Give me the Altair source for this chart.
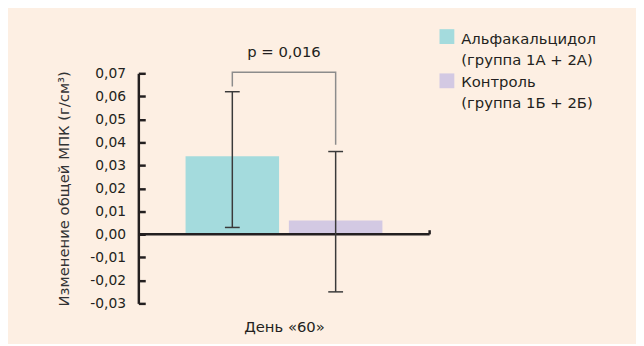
import altair as alt
import pandas as pd

# ---- data ----
groups = ["Альфакальцидол (группа 1А + 2А)", "Контроль (группа 1Б + 2Б)"]
legend_line1 = ["Альфакальцидол", "Контроль"]
legend_line2 = ["(группа 1А + 2А)", "(группа 1Б + 2Б)"]
means = [0.034, 0.006]
err_low = [0.003, -0.025]
err_high = [0.062, 0.036]
colors = ["#A4DBDD", "#D3C9E3"]
y_ticks = [-0.03, -0.02, -0.01, 0.0, 0.01, 0.02, 0.03, 0.04, 0.05, 0.06, 0.07]
y_domain = [-0.03, 0.07]
bracket_group = [groups[0], groups[0], groups[1], groups[1]]
bracket_y = [0.0643, 0.0705, 0.0705, 0.039]
p_label = "p = 0,016"
p_y = 0.0793
x_title = "День «60»"
y_title = "Изменение общей МПК (г/см³)"

W, H = 295, 233
FONT = "DejaVu Sans"
DARK = "#231F20"

bars_df = pd.DataFrame({"g": groups, "m": means, "lo": err_low, "hi": err_high})
bracket_df = pd.DataFrame({"g": bracket_group, "y": bracket_y, "o": list(range(len(bracket_y)))})
zero_df = pd.DataFrame({"v": [0.0]})
end_df = pd.DataFrame({"v": [0.0], "v2": [0.0018]})
p_df = pd.DataFrame({"t": [p_label], "y": [p_y]})

xscale = alt.Scale(domain=groups, paddingInner=0.095, paddingOuter=0.457)
yscale = alt.Scale(domain=y_domain, nice=False, zero=False)

x_enc = alt.X("g:N", scale=xscale,
              axis=alt.Axis(labels=False, ticks=False, domain=False, title=x_title,
                            titleFont=FONT, titleFontSize=15, titleFontWeight="normal",
                            titleColor=DARK, titlePadding=16))

y_left = alt.Axis(values=y_ticks, ticks=False, domain=True, domainColor=DARK, domainWidth=2.5,
                  labelExpr="replace(replace(format(datum.value, '.2f'), '.', ','), '\u2212', '-')",
                  labelFont=FONT, labelFontSize=14, labelColor=DARK, labelPadding=13,
                  grid=False, title=y_title, titleFont=FONT, titleFontSize=15,
                  titleFontWeight="normal", titleColor="#333333", titlePadding=18)


def yq(field):
    return alt.Y(field, scale=yscale, axis=None)


bars = alt.Chart(bars_df).mark_bar().encode(
    x=x_enc,
    y=alt.Y("m:Q", scale=yscale, axis=y_left),
    color=alt.Color("g:N", scale=alt.Scale(domain=groups, range=colors), legend=None),
)

tick_axis = alt.Chart(zero_df).mark_point(opacity=0).encode(
    y=alt.Y("v:Q", scale=yscale,
            axis=alt.Axis(orient="right", offset=-W, values=y_ticks, labels=False, domain=False,
                          ticks=True, tickSize=7, tickWidth=2.5, tickColor=DARK, grid=False,
                          title=None)),
)

zero_line = alt.Chart(zero_df).mark_rule(color=DARK, strokeWidth=2.5).encode(
    y=yq("v:Q"), x=alt.value(0), x2=alt.value(W))
end_tick = alt.Chart(end_df).mark_rule(color=DARK, strokeWidth=2.5).encode(
    y=yq("v:Q"), y2="v2:Q", x=alt.value(W))

err_rule = alt.Chart(bars_df).mark_rule(color="#3A3A3A", strokeWidth=1.5).encode(
    x=alt.X("g:N", scale=xscale), y=yq("lo:Q"), y2="hi:Q")
cap_lo = alt.Chart(bars_df).mark_tick(color="#3A3A3A", size=15, thickness=1.5, opacity=1).encode(
    x=alt.X("g:N", scale=xscale), y=yq("lo:Q"))
cap_hi = alt.Chart(bars_df).mark_tick(color="#3A3A3A", size=15, thickness=1.5, opacity=1).encode(
    x=alt.X("g:N", scale=xscale), y=yq("hi:Q"))

bracket = alt.Chart(bracket_df).mark_line(color="#8C8C8C", strokeWidth=1.5, clip=False).encode(
    x=alt.X("g:N", scale=xscale), y=yq("y:Q"), order="o:Q")

ptext = alt.Chart(p_df).mark_text(font=FONT, fontSize=15, color=DARK, baseline="middle",
                                  clip=False).encode(
    x=alt.value(W / 2), y=yq("y:Q"), text="t:N")

# ---- custom legend (layout positions in pixels relative to the plot area) ----
leg_layers = []
sq_y = [-37.2, 7.6]
txt_y = [(-29.7, -8.7), (14.3, 35.3)]
for i in range(len(groups)):
    leg_df = pd.DataFrame({"a": [legend_line1[i]], "b": [legend_line2[i]]})
    base = alt.Chart(leg_df)
    leg_layers.append(base.mark_square(size=225, opacity=1, color=colors[i], strokeWidth=0).encode(
        x=alt.value(312.5), y=alt.value(sq_y[i])))
    leg_layers.append(base.mark_text(font=FONT, fontSize=15, color=DARK, align="left",
                                     baseline="alphabetic").encode(
        x=alt.value(327), y=alt.value(txt_y[i][0]), text="a:N"))
    leg_layers.append(base.mark_text(font=FONT, fontSize=15, color=DARK, align="left",
                                     baseline="alphabetic").encode(
        x=alt.value(327), y=alt.value(txt_y[i][1]), text="b:N"))

chart = alt.layer(bars, tick_axis, zero_line, end_tick, err_rule, cap_lo, cap_hi, bracket, ptext,
                  *leg_layers).resolve_axis(y="independent").properties(
    width=W, height=H,
    autosize=alt.AutoSizeParams(type="none"),
    padding={"left": 132, "top": 64, "right": 209, "bottom": 39},
    background="#FDEFE3",
).configure_view(strokeOpacity=0)

chart.save("out.html", embed_options={"renderer": "svg", "actions": False})
